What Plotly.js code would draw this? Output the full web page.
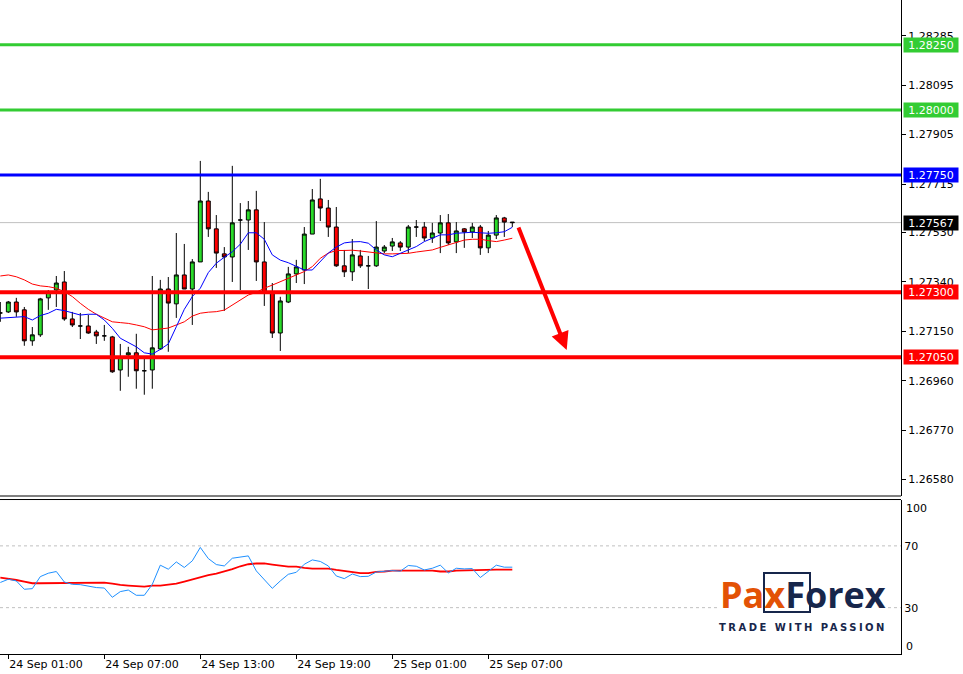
<!DOCTYPE html>
<html><head><meta charset="utf-8">
<script src="https://cdn.plot.ly/plotly-3.0.1.min.js"></script>
<style>html,body{margin:0;padding:0;background:#fff}#chart{width:963px;height:674px}</style>
</head><body><div id="chart"></div>
<script>
const timeTickIndex = [1, 13, 25, 37, 49, 61];
const timeTickLabels = ['24 Sep 01:00','24 Sep 07:00','24 Sep 13:00','24 Sep 19:00','25 Sep 01:00','25 Sep 07:00'];

const openP = [1.27220,1.27224,1.27262,1.27232,1.27113,1.27136,1.27278,1.27308,1.27339,1.27197,
1.27170,1.27170,1.27147,1.27132,1.27128,1.27001,1.27059,1.27067,1.26998,1.27001,
1.27082,1.27312,1.27255,1.27366,1.27312,1.27416,1.27650,1.27543,1.27447,1.27435,
1.27577,1.27577,1.27616,1.27416,1.27297,1.27143,1.27262,1.27370,1.27385,1.27523,
1.27658,1.27623,1.27550,1.27401,1.27378,1.27439,1.27401,1.27401,1.27458,1.27477,
1.27489,1.27473,1.27550,1.27550,1.27508,1.27527,1.27566,1.27493,1.27543,1.27531,
1.27550,1.27470,1.27519,1.27585,1.27569];
const highP = [1.27262,1.27266,1.27278,1.27243,1.27166,1.27278,1.27308,1.27362,1.27381,1.27224,
1.27220,1.27213,1.27155,1.27174,1.27132,1.27101,1.27090,1.27140,1.27051,1.27362,
1.27347,1.27358,1.27527,1.27485,1.27427,1.27804,1.27685,1.27596,1.27473,1.27785,
1.27642,1.27650,1.27689,1.27569,1.27335,1.27282,1.27397,1.27424,1.27550,1.27696,
1.27735,1.27654,1.27627,1.27462,1.27504,1.27462,1.27439,1.27573,1.27481,1.27508,
1.27496,1.27558,1.27577,1.27569,1.27566,1.27596,1.27600,1.27569,1.27546,1.27566,
1.27558,1.27535,1.27596,1.27589,1.27569];
const lowP = [1.27186,1.27220,1.27205,1.27094,1.27094,1.27128,1.27232,1.27243,1.27190,1.27166,
1.27120,1.27140,1.27101,1.27113,1.26990,1.26921,1.26975,1.26929,1.26906,1.26929,
1.27078,1.27071,1.27201,1.27312,1.27174,1.27416,1.27512,1.27393,1.27228,1.27339,
1.27308,1.27462,1.27343,1.27247,1.27124,1.27074,1.27258,1.27335,1.27331,1.27523,
1.27573,1.27512,1.27397,1.27358,1.27343,1.27393,1.27312,1.27397,1.27450,1.27458,
1.27458,1.27450,1.27512,1.27496,1.27489,1.27450,1.27481,1.27450,1.27470,1.27508,
1.27443,1.27450,1.27504,1.27512,1.27550];
const closeP = [1.27220,1.27262,1.27224,1.27113,1.27136,1.27274,1.27301,1.27335,1.27197,1.27174,
1.27170,1.27143,1.27132,1.27132,1.26994,1.27051,1.27067,1.26998,1.26998,1.27086,
1.27312,1.27258,1.27366,1.27312,1.27416,1.27650,1.27543,1.27450,1.27435,1.27566,
1.27577,1.27616,1.27416,1.27297,1.27143,1.27266,1.27370,1.27397,1.27523,1.27654,
1.27623,1.27550,1.27401,1.27378,1.27443,1.27401,1.27401,1.27473,1.27473,1.27493,
1.27473,1.27550,1.27550,1.27508,1.27527,1.27566,1.27489,1.27535,1.27531,1.27550,
1.27470,1.27519,1.27585,1.27569,1.27567];

const maFast = [1.27200,1.27202,1.27203,1.27206,1.27193,1.27210,1.27219,1.27234,1.27229,1.27219,
1.27212,1.27215,1.27215,1.27193,1.27161,1.27123,1.27106,1.27090,1.27067,1.27062,
1.27080,1.27101,1.27167,1.27234,1.27283,1.27315,1.27375,1.27411,1.27434,1.27455,
1.27484,1.27528,1.27528,1.27503,1.27443,1.27423,1.27413,1.27398,1.27385,1.27385,
1.27416,1.27450,1.27473,1.27489,1.27493,1.27494,1.27488,1.27462,1.27443,1.27436,
1.27449,1.27462,1.27475,1.27494,1.27507,1.27520,1.27520,1.27526,1.27528,1.27530,
1.27528,1.27526,1.27528,1.27532,1.27549];
const maSlow = [1.27362,1.27366,1.27359,1.27347,1.27331,1.27324,1.27321,1.27315,1.27302,1.27283,
1.27257,1.27234,1.27215,1.27200,1.27186,1.27183,1.27180,1.27174,1.27167,1.27155,
1.27158,1.27162,1.27174,1.27186,1.27208,1.27219,1.27223,1.27225,1.27231,1.27251,
1.27270,1.27289,1.27299,1.27315,1.27327,1.27340,1.27353,1.27366,1.27379,1.27398,
1.27430,1.27450,1.27460,1.27460,1.27461,1.27458,1.27454,1.27449,1.27447,1.27447,
1.27449,1.27449,1.27454,1.27458,1.27462,1.27472,1.27481,1.27490,1.27500,1.27503,
1.27503,1.27498,1.27494,1.27500,1.27507];

const rsiValues = [46.3,48.4,47.3,41.9,42.3,50.1,52.3,53.4,46.6,45.1,
44.9,43.8,43.0,42.7,36.7,40.4,41.4,38.0,38.0,45.1,
57.5,54.9,59.6,56.0,60.3,69.0,61.8,57.9,57.0,62.0,
62.7,63.5,53.8,48.4,42.5,47.3,51.6,52.9,58.1,60.9,
59.9,57.0,50.5,48.8,51.8,50.1,50.3,53.1,53.4,54.0,
53.6,57.3,56.8,54.4,55.5,57.5,52.5,55.5,55.1,55.3,
49.5,53.4,57.5,56.2,56.2];
const rsiSignal = [49.5,48.8,47.9,46.9,45.8,45.8,45.8,46.2,46.2,46.2,
46.2,46.2,46.2,46.2,45.6,44.7,44.3,44.1,43.6,44.3,
44.3,44.9,45.6,46.9,48.4,49.9,51.0,52.1,53.4,54.9,
56.8,58.1,58.6,58.6,57.9,57.3,56.6,56.6,55.7,55.3,
55.3,55.3,54.4,53.6,52.7,52.3,52.3,53.1,53.4,54.0,
54.0,54.0,54.0,54.0,54.0,53.4,53.4,54.0,54.2,54.4,
54.6,54.6,54.6,54.6,54.6];

const priceTicks = [1.28285,1.28095,1.27905,1.27715,1.27530,1.27340,1.27150,1.26960,1.26770,1.26580];
const levelPrices = [1.2825, 1.28, 1.2775, 1.273, 1.2705];
const levelLabels = ['1.28250','1.28000','1.27750','1.27300','1.27050'];
const levelColors = ['#33CC33','#33CC33','#0000FF','#FF0000','#FF0000'];
const levelWidths = [3, 3, 3, 4, 4];
const lastPrice = 1.27567;
const lastPriceLabel = '1.27567';
const rsiLevels = [70, 30];
const arrowX = [64.7, 70.8];
const arrowY = [1.27554, 1.27078];

const idx = openP.map((_, i) => i);
const FONT = 'DejaVu Sans';

const traces = [
  {type:'candlestick', x: idx, open: openP, high: highP, low: lowP, close: closeP,
   xaxis:'x', yaxis:'y', hoverinfo:'skip', whiskerwidth:0,
   increasing:{line:{color:'#000', width:1}, fillcolor:'#2ADB2A'},
   decreasing:{line:{color:'#000', width:1}, fillcolor:'#FF0000'}},
  {type:'scatter', mode:'lines', x: idx, y: maSlow, xaxis:'x', yaxis:'y', line:{color:'#FF0000', width:1}, hoverinfo:'skip'},
  {type:'scatter', mode:'lines', x: idx, y: maFast, xaxis:'x', yaxis:'y', line:{color:'#0000FF', width:1}, hoverinfo:'skip'},
  {type:'scatter', mode:'lines', x: idx, y: rsiSignal, xaxis:'x', yaxis:'y2', line:{color:'#FF0000', width:1.8}, hoverinfo:'skip'},
  {type:'scatter', mode:'lines', x: idx, y: rsiValues, xaxis:'x', yaxis:'y2', line:{color:'#1E90FF', width:1}, hoverinfo:'skip'}
];

const mainBottom = 0.24159, rsiTop = 0.2362;
const shapes = [];
shapes.push({type:'line', xref:'paper', x0:0, x1:1, yref:'y', y0:lastPrice, y1:lastPrice, line:{color:'#C0C0C0', width:1}, layer:'below'});
levelPrices.forEach((p, i) => shapes.push({type:'line', xref:'paper', x0:0, x1:1, yref:'y', y0:p, y1:p, line:{color:levelColors[i], width:levelWidths[i]}, layer:'above'}));
rsiLevels.forEach(v => shapes.push({type:'line', xref:'paper', x0:0, x1:1, yref:'y2', y0:v, y1:v, line:{color:'#C0C0C0', width:1, dash:'3px,3px'}, layer:'below'}));
shapes.push({type:'line', xref:'paper', yref:'paper', x0:0, x1:1, y0:mainBottom, y1:mainBottom, line:{color:'#000', width:1}});
shapes.push({type:'line', xref:'paper', yref:'paper', x0:0, x1:1, y0:rsiTop, y1:rsiTop, line:{color:'#000', width:1}});
const px = v => v / 901, py = v => (654 - v) / 654;
shapes.push({type:'rect', xref:'paper', yref:'paper', x0:px(719), x1:px(888), y0:py(636), y1:py(569), fillcolor:'#fff', line:{width:0}, layer:'above'});
shapes.push({type:'rect', xref:'paper', yref:'paper', x0:px(764), x1:px(810), y0:py(612), y1:py(573), line:{color:'#17264B', width:2}, layer:'above'});

const annotations = [];
levelPrices.forEach((p, i) => annotations.push({xref:'paper', x:1, xanchor:'left', xshift:2, yref:'y', y:p, yanchor:'middle',
  text: levelLabels[i], showarrow:false, bgcolor: levelColors[i], font:{family:FONT, size:11, color:'#fff'}, width:52, height:12, borderpad:1}));
annotations.push({xref:'paper', x:1, xanchor:'left', xshift:2, yref:'y', y:lastPrice, yanchor:'middle',
  text:lastPriceLabel, showarrow:false, bgcolor:'#000', font:{family:FONT, size:11, color:'#fff'}, width:52, height:12, borderpad:1});
annotations.push({xref:'paper', x:1, xanchor:'left', xshift:3, yref:'paper', y:py(508), yanchor:'middle', text:'100', showarrow:false, font:{family:FONT, size:11, color:'#000'}});
annotations.push({xref:'paper', x:1, xanchor:'left', xshift:3, yref:'paper', y:py(646), yanchor:'middle', text:'0', showarrow:false, font:{family:FONT, size:11, color:'#000'}});
annotations.push({xref:'x', yref:'y', x:arrowX[1], y:arrowY[1], axref:'x', ayref:'y', ax:arrowX[0], ay:arrowY[0],
  showarrow:true, arrowhead:2, arrowsize:0.9, arrowwidth:4, arrowcolor:'#FF0000', text:''});
annotations.push({xref:'paper', yref:'paper', x:px(803), y:py(594), xanchor:'center', yanchor:'middle', showarrow:false,
  text:'<b><span style="color:#E35205">Pax</span><span style="color:#17264B">Forex</span></b>', font:{family:'Open Sans', size:36}});
annotations.push({xref:'paper', yref:'paper', x:px(803), y:py(627), xanchor:'center', yanchor:'middle', showarrow:false,
  text:'<b><span style="letter-spacing:2.5px">TRADE WITH PASSION</span></b>', font:{family:'DejaVu Sans', size:10, color:'#17264B'}});

const layout = {
  width:963, height:674, paper_bgcolor:'#fff', plot_bgcolor:'#fff', showlegend:false,
  margin:{l:0, r:62, t:0, b:20}, hovermode:false, dragmode:false,
  xaxis:{domain:[0,1], range:[-0.04, 112.59], anchor:'y2', showline:true, linecolor:'#000', linewidth:1,
    ticks:'outside', ticklen:4, tickcolor:'#000', tickvals: timeTickIndex, ticktext: timeTickLabels,
    ticklabelposition:'outside right', tickfont:{family:FONT, size:11, color:'#000'},
    showgrid:false, zeroline:false, rangeslider:{visible:false}, fixedrange:true},
  yaxis:{domain:[mainBottom,1], range:[1.26517, 1.28422], side:'right', anchor:'x', showline:true, linecolor:'#000', linewidth:1,
    ticks:'outside', ticklen:4, tickcolor:'#000', tickvals: priceTicks, ticktext: priceTicks.map(v => v.toFixed(5)),
    tickfont:{family:FONT, size:11, color:'#000'}, showgrid:false, zeroline:false, fixedrange:true},
  yaxis2:{domain:[0, rsiTop], range:[0,100], side:'right', anchor:'x', showline:true, linecolor:'#000', linewidth:1,
    ticks:'', tickvals: rsiLevels, ticktext: rsiLevels.map(String),
    tickfont:{family:FONT, size:11, color:'#000'}, showgrid:false, zeroline:false, fixedrange:true},
  shapes: shapes, annotations: annotations
};
Plotly.newPlot('chart', traces, layout, {staticPlot:true, displayModeBar:false});
</script></body></html>
